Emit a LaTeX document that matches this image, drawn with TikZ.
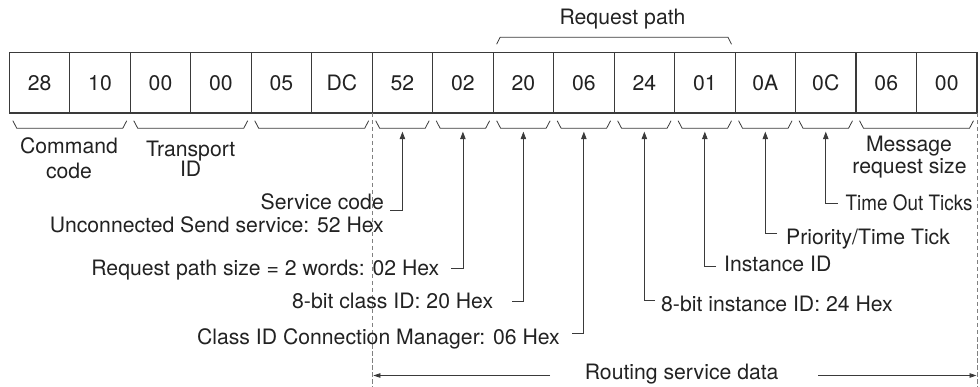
\documentclass[tikz,border=0pt]{standalone}
\usepackage{fontspec}
\usepackage{graphicx}
\setmainfont{TeX Gyre Heros}
\usetikzlibrary{arrows.meta}
\definecolor{lc}{HTML}{3A3A3A}
\definecolor{tc}{HTML}{222222}
\definecolor{dc}{HTML}{808080}
\tikzset{
  cell/.style={draw=lc, line width=1.1pt, minimum width=60.48pt, minimum height=60.5pt, inner sep=0pt, outer sep=0pt, text=tc},
  brk/.style={draw=lc, line width=0.8pt},
  arr/.style={draw=lc, line width=0.8pt, -{Triangle[length=7.5pt,width=5.5pt]}},
  rarr/.style={draw=lc, line width=0.8pt, -{Triangle[length=7pt,width=4.5pt]}},
  dsh/.style={draw=dc, line width=0.7pt, dash pattern=on 4.5pt off 2.5pt},
  lbl/.style={inner sep=0pt, text=tc},
}
\newcommand\ubr[2]{%
  \draw[brk] ([shift={(3.5,7.7)}]b#1.south west) -- ([shift={(7.5,15.3)}]b#1.south west)
    -- ([shift={(-7.5,15.3)}]b#2.south east) -- ([shift={(-3.5,7.7)}]b#2.south east);}
\begin{document}
\begin{tikzpicture}[x=1pt, y=-1pt, font=\fontsize{21.2}{25}\selectfont]
\useasboundingbox (0,0) rectangle (980,387);
% cells
\foreach \v [count=\i] in {28,10,00,00,05,DC,52,02,20,06,24,01,0A,0C,06,00} {
  \node[cell] (b\i) at ({9.3+(\i-0.5)*60.48}, 82.75) {\v};
}
% braces below
\ubr{1}{2}
\ubr{3}{4}
\ubr{5}{6}
\foreach \k in {7,...,14} {\ubr{\k}{\k}}
\ubr{15}{16}
% request path bracket
\draw[brk] ([shift={(3.5,-8.2)}]b9.north west) -- ([shift={(7,-15.2)}]b9.north west)
  -- ([shift={(-7,-15.2)}]b12.north east) -- ([shift={(-3.5,-8.2)}]b12.north east);
\node[lbl, anchor=base] (rp) at (622.5,25) {Request path};
% group labels
\node[lbl, anchor=base] (cc1) at (69,154) {Command};
\node[lbl, anchor=base] (cc2) at (69,178.5) {code};
\node[lbl, anchor=base] (tr1) at (190.7,156.5) {Transport};
\node[lbl, anchor=base] (tr2) at (190.7,176.7) {ID};
\node[lbl, anchor=base] (ms1) at (909,151.7) {Message};
\node[lbl, anchor=base] (ms2) at (909.5,173.3) {request size};
% dashed lines
\draw[dsh] (b6.south east) -- ++(0,274);
\draw[dsh] (b16.south east) -- ++(0,274);
% arrow tips
\foreach \k in {7,...,14} {\coordinate (t\k) at ([shift={(0,18.7)}]b\k.south);}
% field labels
\node[lbl, anchor=base east] (lsc) at (384,210) {Service code};
\node[lbl, anchor=base east] (lus) at (384,232.5) {Unconnected Send service: 52 Hex};
\node[lbl, anchor=base east] (lrp) at (439.5,275.5) {Request path size = 2 words: 02 Hex};
\node[lbl, anchor=base east] (lcl) at (493.3,308.3) {8-bit class ID: 20 Hex};
\node[lbl, anchor=base east] (lcm) at (560,344.5) {Class ID Connection Manager: 06 Hex};
\node[lbl, anchor=base west] (lin) at (661,311.7) {8-bit instance ID: 24 Hex};
\node[lbl, anchor=base west] (lid) at (724,272) {Instance ID};
\node[lbl, anchor=base west] (lpt) at (786,245) {Priority/Time Tick};
\node[lbl, anchor=base west] (lto) at (845.5,210.5) {\scalebox{0.89}[1]{Time Out Ticks}};
% leader start points
\coordinate (s7) at (390,210.7);
\coordinate (s8) at (451,268.3);
\coordinate (s9) at (512,301.7);
\coordinate (s10) at (572,333.3);
\coordinate (s11) at (655,300.7);
\coordinate (s12) at (716,266);
\coordinate (s13) at (777,233.3);
\coordinate (s14) at (837.5,203.3);
\foreach \k in {7,...,14} {\draw[arr] (s\k) -| (t\k);}
% routing service data
\node[lbl, anchor=base] (rsd) at (681.7,379.3) {Routing service data};
\coordinate (ra) at (550,375.5);
\coordinate (rb) at (373.4,375.5);
\coordinate (rc) at (818,375.5);
\coordinate (rd) at (976.5,375.5);
\draw[rarr] (ra) -- (rb);
\draw[rarr] (rc) -- (rd);
\end{tikzpicture}
\end{document}
